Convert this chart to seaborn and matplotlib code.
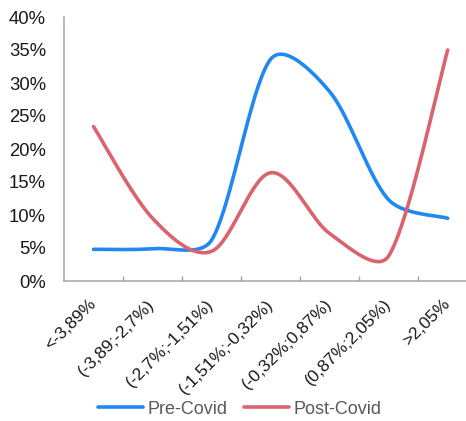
import numpy as np
import pandas as pd
import matplotlib
matplotlib.use("Agg")
import matplotlib.pyplot as plt
import seaborn as sns

# values (percent)
categories = ["<-3,89%", "(-3,89;-2,7%)", "(-2,7%;-1,51%)", "(-1,51%;-0,32%)",
              "(-0,32%;0,87%)", "(0,87%;2,05%)", ">2,05%"]
pre_covid = [4.8, 4.9, 6.2, 33.6, 28.7, 12.3, 9.5]
post_covid = [23.4, 9.5, 4.5, 16.4, 7.2, 3.8, 35.0]
series_names = ["Pre-Covid", "Post-Covid"]
colors = ["#2188f2", "#d9636f"]

# pixel size of one category step / one percent, used so the smoothing behaves like it does on screen
PX_X, PX_Y = 59.0, 6.6


def smooth(values, steps=40):
    """smoothed line: catmull-rom bezier, handles capped at a third of the segment"""
    y = np.asarray(values, dtype=float)
    x = np.arange(len(y), dtype=float)
    pts = np.column_stack([x * PX_X, y * PX_Y])
    n = len(pts)
    tang = np.zeros_like(pts)
    for i in range(n):
        tang[i] = (pts[min(i + 1, n - 1)] - pts[max(i - 1, 0)]) / 6
    out = []
    t = np.linspace(0, 1, steps)[:, None]
    for i in range(n - 1):
        p0, p3 = pts[i], pts[i + 1]
        L = np.linalg.norm(p3 - p0) / 3
        h0 = tang[i] * min(1, L / np.linalg.norm(tang[i]))
        h1 = tang[i + 1] * min(1, L / np.linalg.norm(tang[i + 1]))
        p1 = p0 + h0
        p2 = p3 - h1
        seg = ((1 - t) ** 3) * p0 + 3 * ((1 - t) ** 2) * t * p1 + 3 * (1 - t) * t ** 2 * p2 + t ** 3 * p3
        out.append(seg if i == 0 else seg[1:])
    c = np.vstack(out)
    return c[:, 0] / PX_X, c[:, 1] / PX_Y


frames = []
for name, vals in zip(series_names, [pre_covid, post_covid]):
    sx, sy = smooth(vals)
    frames.append(pd.DataFrame({"x": sx, "y": sy, "series": name}))
df = pd.concat(frames, ignore_index=True)

sns.set_theme(style="white")
plt.rcParams["font.family"] = ["Liberation Sans", "DejaVu Sans"]

fig = plt.figure(figsize=(4.66, 4.21), dpi=100)
ax = fig.add_axes([64 / 466, 1 - 281 / 421, 1 - 64 / 466, (281 - 17) / 421])

sns.lineplot(data=df, x="x", y="y", hue="series", palette=dict(zip(series_names, colors)),
             sort=False, estimator=None, units="series", linewidth=2.6, ax=ax, legend=False)
for line in ax.lines:
    line.set_solid_capstyle("round")

ax.set_xlim(-0.5, 6.31)
ax.set_ylim(0, 40)
ax.set_yticks(range(0, 41, 5))
ax.set_yticklabels([f"{v}%" for v in range(0, 41, 5)], fontsize=13.3, color="#1a1a1a")
ax.set_xticks(range(len(categories)))
ax.set_xticklabels(categories, rotation=45, ha="right", va="center", rotation_mode="anchor",
                   fontsize=12.5, color="#1a1a1a")
ax.set_xticks(np.arange(0.5, len(categories) - 1, 1), minor=True)
ax.tick_params(axis="x", which="major", length=0, pad=15)
ax.tick_params(axis="x", which="minor", direction="in", length=3.3, width=1, color="#a6a6a6", bottom=True)
ax.tick_params(axis="y", length=0, pad=13)
ax.set_xlabel("")
ax.set_ylabel("")

sns.despine(ax=ax, top=True, right=True)
for side in ["left", "bottom"]:
    ax.spines[side].set_color("#a6a6a6")
    ax.spines[side].set_linewidth(1.1)

handles = [plt.Line2D([], [], color=c, linewidth=2.6, solid_capstyle="round") for c in colors]
fig.legend(handles, series_names, loc="center", bbox_to_anchor=(240 / 466, 1 - 409 / 421), ncol=2,
           frameon=False, fontsize=13, labelcolor="#595959", handlelength=2.5, handletextpad=0.25,
           columnspacing=0.9)

fig.savefig("out.png", dpi=100)
